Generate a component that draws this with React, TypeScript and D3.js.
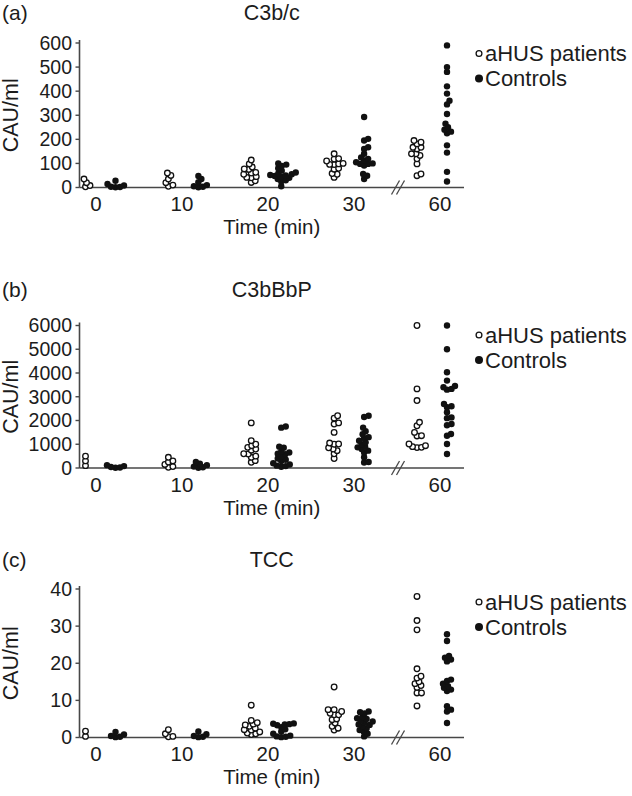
import React from "react";
import * as d3 from "d3";

// ---------- data ----------
const times = ["0", "10", "20", "30", "60"];
const seriesKeys = ["patients", "controls"];
const legendLabels = ["aHUS patients", "Controls"];
const panelLetters = ["(a)", "(b)", "(c)"];
const panelTitles = ["C3b/c", "C3bBbP", "TCC"];
const yLabel = "CAU/ml";
const xLabel = "Time (min)";

const c3bcTicks = [0, 100, 200, 300, 400, 500, 600];
const c3bbbpTicks = [0, 1000, 2000, 3000, 4000, 5000, 6000];
const tccTicks = [0, 10, 20, 30, 40];

const c3bcPatients = [
  [35, 20, 8, 3],
  [60, 50, 35, 20, 10, 5],
  [114, 98, 85, 77, 75, 63, 55, 45, 42, 40, 28, 21, 60],
  [140, 120, 118, 100, 98, 96, 80, 76, 58, 55, 42, 95, 110],
  [195, 188, 181, 167, 167, 160, 140, 140, 133, 119, 98, 56, 49],
];
const c3bcControls = [
  [28, 15, 8, 3, 2, 1],
  [48, 35, 22, 10, 5, 3, 1],
  [100, 95, 90, 80, 70, 62, 58, 55, 52, 50, 48, 45, 40, 35, 30, 25, 5],
  [293, 202, 195, 167, 160, 140, 125, 119, 112, 105, 98, 98, 91, 56, 49, 35, 100],
  [590, 500, 480, 420, 390, 360, 345, 305, 265, 250, 240, 232, 225, 175, 145, 65, 25],
];

const c3bbbpPatients = [
  [500, 300, 100],
  [450, 300, 250, 150, 60, 30],
  [1900, 1150, 1000, 940, 870, 800, 750, 600, 590, 500, 450, 310, 240],
  [2200, 2100, 1900, 1850, 1500, 1050, 1010, 1000, 850, 800, 730, 600, 400],
  [6000, 3330, 2840, 1925, 1780, 1500, 1360, 1350, 1010, 940, 870, 860, 900],
];
const c3bbbpControls = [
  [120, 80, 40, 20, 10],
  [250, 180, 120, 60, 30, 10],
  [1750, 1700, 900, 850, 700, 650, 600, 580, 500, 400, 350, 300, 200, 150, 100, 80, 50],
  [2200, 2150, 1700, 1550, 1420, 1300, 1250, 1150, 1080, 1000, 900, 870, 800, 730, 650, 450, 250, 230],
  [6000, 5000, 4030, 3680, 3450, 3400, 3330, 3300, 2700, 2600, 2560, 2350, 2130, 2100, 1850, 1800, 1430, 1360, 1010, 590],
];

const tccPatients = [
  [1.7, 0.3],
  [2.1, 1.0, 0.3, 0.2],
  [8.7, 4.6, 4, 3.6, 3.4, 3, 2.5, 2.1, 2, 1.5, 1.2, 1, 0.8],
  [13.6, 7.5, 7.5, 7, 6.5, 6.1, 6.1, 5, 4.8, 3.9, 3, 2.5, 2],
  [38, 31.5, 29, 18.5, 16.5, 16, 15, 14.5, 14, 13.5, 12, 12, 8.5],
];
const tccControls = [
  [1.5, 0.8, 0.4, 0.2, 0.1],
  [1.6, 0.9, 0.4, 0.2, 0.1],
  [3.8, 3.7, 3.6, 3.5, 3.3, 2.8, 2.2, 1.6, 1, 0.5, 0.3, 0.2, 0.1],
  [7, 6.8, 6.5, 5.5, 5.2, 5, 4.5, 4.3, 4, 3.5, 3.4, 3, 2.5, 2, 1.6, 1, 0.3],
  [27.8, 26, 22, 21.5, 21, 20.5, 15.6, 15.2, 14.5, 13.8, 13.4, 12.9, 12.5, 8.4, 7.5, 7, 3.9],
];

// ---------- layout ----------
const W = 632;
const H = 796;
const FONT = "'Liberation Sans', Arial, Helvetica, sans-serif";
const TEXT = "#1c1c1c";
const AXIS = "#474747";
const axisX = 79.5;
const axisRight = 464;

const panels = [
  { ticks: c3bcTicks, patients: c3bcPatients, controls: c3bcControls, titleY: 20, yTop: 43, y0: 187.5, legendY: 53.5 },
  { ticks: c3bbbpTicks, patients: c3bbbpPatients, controls: c3bbbpControls, titleY: 297, yTop: 325.5, y0: 468, legendY: 335 },
  { ticks: tccTicks, patients: tccPatients, controls: tccControls, titleY: 567, yTop: 589, y0: 737.5, legendY: 602 },
];

// greedy beeswarm: place points from bottom upward, nearest free x-offset
function swarm(values: number[], y: d3.ScaleLinear<number, number>, cx: number, d: number) {
  const pts = values.map((v) => ({ v, y: y(v), x: 0 })).sort((a, b) => b.y - a.y);
  const placed: { x: number; y: number }[] = [];
  for (const p of pts) {
    let chosen = 0;
    for (let k = 0; k < 200; k++) {
      const offs = k === 0 ? [0] : [k * 0.5, -k * 0.5];
      let found = false;
      for (const off of offs) {
        let ok = true;
        for (const q of placed) {
          const dy = q.y - p.y;
          if (Math.abs(dy) >= d) continue;
          const dx = q.x - off;
          if (dx * dx + dy * dy < d * d) { ok = false; break; }
        }
        if (ok) { chosen = off; found = true; break; }
      }
      if (found) break;
    }
    p.x = chosen;
    placed.push({ x: chosen, y: p.y });
  }
  return pts.map((p) => ({ ...p, x: cx + p.x }));
}

export default function App() {
  const xTick = d3.scalePoint<string>().domain(times).range([96, 440]);
  const xCol = d3.scalePoint<string>().domain(times).range([100.5, 432]);
  const xSeries = d3.scalePoint<string>().domain(seriesKeys).range([-15, 15]);
  const spacing = 4.2;

  return (
    <svg width={W} height={H} viewBox={`0 0 ${W} ${H}`} style={{ position: "absolute", left: 0, top: 0, background: "#fff" }} fontFamily={FONT}>
      <rect x={0} y={0} width={W} height={H} fill="#fff" />
      {panels.map((p, pi) => {
        const max = p.ticks[p.ticks.length - 1];
        const y = d3.scaleLinear().domain([0, max]).range([p.y0, p.yTop]);
        const midY = (p.y0 + p.yTop) / 2;
        const breakX = (xTick("30")! + xTick("60")!) / 2 + 1;
        const centerX = (axisX + axisRight) / 2;
        return (
          <g key={pi}>
            <text x={2} y={p.titleY} fontSize={21} fill={TEXT}>{panelLetters[pi]}</text>
            <text x={centerX} y={p.titleY} fontSize={21.5} fill={TEXT} textAnchor="middle">{panelTitles[pi]}</text>
            <text transform={`translate(18,${midY}) rotate(-90)`} fontSize={21.5} fill={TEXT} textAnchor="middle">{yLabel}</text>
            {/* y axis */}
            <line x1={axisX} x2={axisX} y1={p.yTop - 3} y2={p.y0} stroke={AXIS} strokeWidth={1.6} />
            {p.ticks.map((t) => (
              <g key={t}>
                <line x1={axisX - 4} x2={axisX} y1={y(t)} y2={y(t)} stroke={AXIS} strokeWidth={1.4} />
                <text x={72} y={y(t)} dy="0.35em" fontSize={19.5} fill={TEXT} textAnchor="end">{t}</text>
              </g>
            ))}
            {/* x axis */}
            <line x1={axisX} x2={axisRight} y1={p.y0} y2={p.y0} stroke={AXIS} strokeWidth={1.6} />
            {times.map((t) => (
              <text key={t} x={xTick(t)} y={p.y0 + 23.5} fontSize={20.5} fill={TEXT} textAnchor="middle">{t}</text>
            ))}
            <text x={centerX} y={p.y0 + 46.5} fontSize={20.5} fill={TEXT} textAnchor="middle">{xLabel}</text>
            {/* axis break */}
            {[-2.5, 2.5].map((o) => (
              <line key={o} x1={breakX + o - 4} y1={p.y0 + 7} x2={breakX + o + 4} y2={p.y0 - 7} stroke={AXIS} strokeWidth={1.3} />
            ))}
            {/* points */}
            {times.map((t, ti) => {
              const pts = swarm(p.patients[ti], y, xCol(t)! + xSeries("patients")!, spacing);
              const cts = swarm(p.controls[ti], y, xCol(t)! + xSeries("controls")!, spacing);
              return (
                <g key={t}>
                  {pts.map((d, i) => (
                    <circle key={"p" + i} cx={d.x} cy={d.y} r={2.8} fill="#fff" stroke="#111" strokeWidth={1.3} />
                  ))}
                  {cts.map((d, i) => (
                    <circle key={"c" + i} cx={d.x} cy={d.y} r={3.2} fill="#111" />
                  ))}
                </g>
              );
            })}
            {/* legend */}
            <circle cx={479} cy={p.legendY} r={2.9} fill="#fff" stroke="#111" strokeWidth={1.3} />
            <text x={485} y={p.legendY + 7.5} fontSize={22} fill={TEXT}>{legendLabels[0]}</text>
            <circle cx={479} cy={p.legendY + 25} r={4} fill="#111" />
            <text x={485} y={p.legendY + 32.5} fontSize={22} fill={TEXT}>{legendLabels[1]}</text>
          </g>
        );
      })}
    </svg>
  );
}
